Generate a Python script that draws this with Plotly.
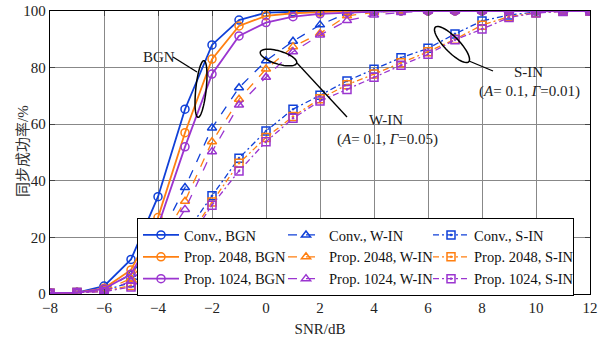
import numpy as np
import plotly.graph_objects as go

snr = list(range(-8, 13))

conv_bgn   = [0.3, 0.5, 2.8, 12.2, 34.4, 65.3, 88.0, 96.8, 99.4, 99.7, 100, 100, 100, 100, 100, 100, 100, 100, 100, 100, 100]
p2048_bgn  = [0.3, 0.5, 2.0, 8.5, 27.0, 57.0, 83.0, 94.7, 98.3, 99.2, 99.6, 100, 100, 100, 100, 100, 100, 100, 100, 100, 100]
p1024_bgn  = [0.3, 0.5, 1.8, 7.0, 24.0, 52.0, 77.7, 91.2, 95.9, 98.0, 99.0, 99.5, 99.8, 100, 100, 100, 100, 100, 100, 100, 100]

conv_win   = [0.3, 0.5, 1.5, 7.0, 19.0, 37.6, 58.7, 72.9, 82.4, 89.3, 95.1, 99.2, 99.8, 100, 100, 100, 100, 100, 100, 100, 100]
p2048_win  = [0.3, 0.5, 1.2, 5.5, 17.0, 32.8, 53.8, 68.8, 79.5, 87.4, 92.1, 98.3, 99.5, 100, 100, 100, 100, 100, 100, 100, 100]
p1024_win  = [0.3, 0.5, 1.0, 4.5, 15.0, 29.9, 50.3, 66.8, 76.6, 85.6, 91.5, 96.6, 98.6, 99.5, 100, 100, 100, 100, 100, 100, 100]

conv_sin   = [0.3, 0.5, 1.3, 4.0, 10.0, 21.0, 34.7, 48.0, 57.6, 65.3, 70.2, 75.3, 79.4, 83.5, 86.8, 91.9, 96.5, 98.6, 99.6, 100, 100]
p2048_sin  = [0.3, 0.5, 1.0, 3.0, 9.0, 18.0, 32.5, 46.2, 55.3, 62.7, 69.0, 73.9, 77.7, 81.7, 85.6, 90.0, 95.0, 98.0, 99.4, 99.9, 100]
p1024_sin  = [0.3, 0.5, 0.8, 2.5, 8.0, 17.0, 31.4, 43.5, 53.8, 62.1, 68.2, 72.3, 76.6, 80.8, 84.7, 89.8, 93.6, 97.7, 99.3, 99.8, 100]

x_ticks = list(range(-8, 13, 2))
y_ticks = list(range(0, 101, 20))

BLUE = "#1040d8"
ORANGE = "#ff7f10"
PURPLE = "#9b35d0"
FONT = "Liberation Serif, Times New Roman, Noto Sans CJK SC"

series = [
    ("Conv., BGN", conv_bgn, BLUE, "solid", "circle-open"),
    ("Conv., W-IN", conv_win, BLUE, "dash", "triangle-up-open"),
    ("Conv., S-IN", conv_sin, BLUE, "6px,3px,2px,3px", "square-open-dot"),
    ("Prop. 2048, BGN", p2048_bgn, ORANGE, "solid", "circle-open"),
    ("Prop. 2048, W-IN", p2048_win, ORANGE, "dash", "triangle-up-open"),
    ("Prop. 2048, S-IN", p2048_sin, ORANGE, "6px,3px,2px,3px", "square-open-dot"),
    ("Prop. 1024, BGN", p1024_bgn, PURPLE, "solid", "circle-open"),
    ("Prop. 1024, W-IN", p1024_win, PURPLE, "dash", "triangle-up-open"),
    ("Prop. 1024, S-IN", p1024_sin, PURPLE, "6px,3px,2px,3px", "square-open-dot"),
]

fig = go.Figure()
for name, vals, col, dash, sym in series:
    fig.add_trace(go.Scatter(
        x=snr, y=vals, name=name, mode="lines+markers",
        line=dict(color=col, width=1.8 if dash == "solid" else 1.3, dash=dash),
        marker=dict(symbol=sym, size=8, color=col,
                    line=dict(width=1.5, color=col)),
        hoverinfo="skip",
    ))

# plot-area geometry in page pixels
PL, PR, PT, PB = 50, 590, 11, 294
PX_X = (PR - PL) / 20.0
PX_Y = (PB - PT) / 100.0

def ellipse_path(cx, cy, a_px, b_px, ang_deg, n=60):
    t = np.linspace(0, 2 * np.pi, n)
    ang = np.deg2rad(ang_deg)
    ex = a_px * np.cos(t)
    ey = b_px * np.sin(t)
    rx = ex * np.cos(ang) - ey * np.sin(ang)
    ry = ex * np.sin(ang) + ey * np.cos(ang)
    xs = cx + rx / PX_X
    ys = cy - ry / PX_Y
    pts = [f"{x:.4f},{y:.4f}" for x, y in zip(xs, ys)]
    return "M " + " L ".join(pts) + " Z"

def px2d(px, py):
    return (px - PL) / PX_X - 8, (PB - py) / PX_Y

shapes = []
cx, cy = px2d(201, 89)
shapes.append(dict(type="path", path=ellipse_path(cx, cy, 28.5, 5.2, 96), line=dict(color="black", width=1.5)))
cx, cy = px2d(278.5, 57.5)
shapes.append(dict(type="path", path=ellipse_path(cx, cy, 19, 6.5, 17), line=dict(color="black", width=1.5)))
cx, cy = px2d(452, 44.5)
shapes.append(dict(type="path", path=ellipse_path(cx, cy, 24, 7.5, 46), line=dict(color="black", width=1.5)))

def seg(p0, p1):
    x0, y0 = px2d(*p0)
    x1, y1 = px2d(*p1)
    return dict(type="line", x0=x0, y0=y0, x1=x1, y1=y1, line=dict(color="black", width=1.3))

shapes.append(seg((173, 57), (197, 72)))
shapes.append(seg((297, 63), (347, 117)))
shapes.append(seg((469, 61), (493, 71)))

annots = []
def txt(px, py, s):
    x, y = px2d(px, py)
    annots.append(dict(x=x, y=y, text=s, showarrow=False, xref="x", yref="y",
                       font=dict(family=FONT, size=15, color="#222")))

txt(159, 57, "BGN")
txt(386, 120, "W-IN")
txt(387, 139, "(<i>A</i>= 0.1, <i>Γ</i>=0.05)")
txt(528, 72, "S-IN")
txt(529, 91, "(<i>A</i>= 0.1, <i>Γ</i>=0.01)")

annots.append(dict(
    x=(23 - PL) / (PR - PL), y=(PB - 151) / (PB - PT), xref="paper", yref="paper",
    text="同步成功率/%", textangle=-90, showarrow=False,
    xanchor="center", yanchor="middle",
    font=dict(family=FONT, size=15, color="#333"),
))

fig.update_layout(
    width=609, height=340,
    margin=dict(l=PL, r=609 - PR, t=PT, b=340 - PB, autoexpand=False),
    plot_bgcolor="white", paper_bgcolor="white",
    font=dict(family=FONT, size=15, color="#222"),
    shapes=shapes, annotations=annots,
    hovermode=False,
    showlegend=True,
    legend=dict(
        orientation="h", x=(137 - PL) / (PR - PL), y=(PB - 218) / (PB - PT),
        xanchor="left", yanchor="top",
        bgcolor="white", bordercolor="black", borderwidth=1,
        font=dict(family=FONT, size=14.5, color="#111"),
        entrywidth=94, entrywidthmode="pixels", tracegroupgap=0,
        itemwidth=36,
    ),
    xaxis=dict(
        range=[-8, 12], tickvals=x_ticks, ticks="inside", ticklen=5,
        showline=True, linecolor="black", linewidth=1.2, mirror="allticks",
        showgrid=True, gridcolor="#888", gridwidth=1, zeroline=False,
        automargin=False, ticklabeloverflow="allow",
        title=dict(text="SNR/dB", standoff=8, font=dict(size=15)),
        tickfont=dict(size=15),
    ),
    yaxis=dict(
        range=[0, 100], tickvals=y_ticks, ticks="inside", ticklen=5,
        showline=True, linecolor="black", linewidth=1.2, mirror="allticks",
        showgrid=True, gridcolor="#888", gridwidth=1, zeroline=False,
        automargin=False, ticklabeloverflow="allow",
        tickfont=dict(size=15),
    ),
)

fig.write_html("out.html", config={"displayModeBar": False, "staticPlot": True},
               post_script="document.body.style.margin='0';")
